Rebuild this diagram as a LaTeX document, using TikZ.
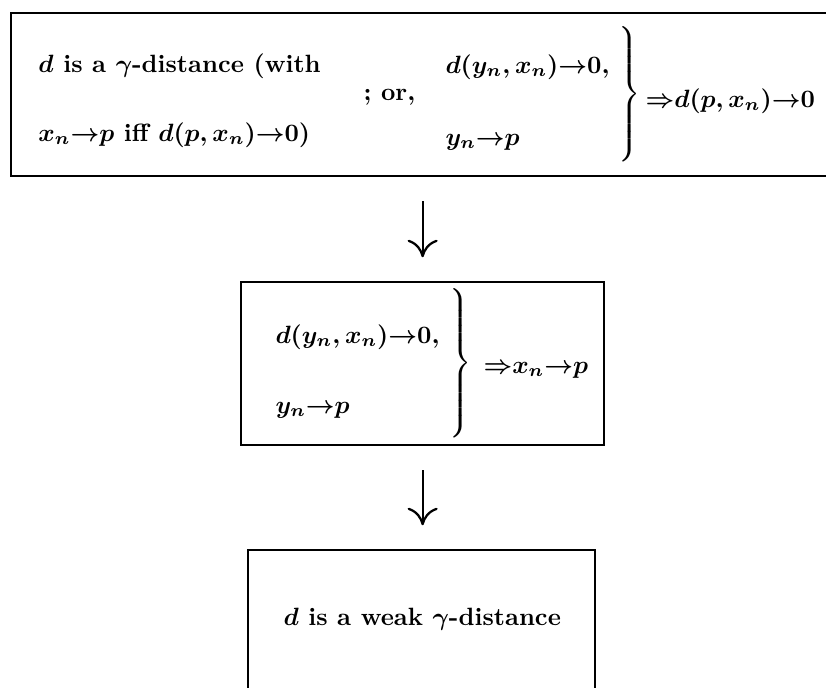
\documentclass[tikz,border=0pt]{standalone}
\usetikzlibrary{arrows.meta}
\begin{document}
\begin{tikzpicture}[x=0.4pt, y=-0.4pt, every node/.style={font=\bfseries\boldmath, inner sep=0pt}, frame/.style={draw, line width=0.9pt, anchor=north west}, txt/.style={anchor=base west}, brace/.style={anchor=west}, implies/.style={-{To[length=7pt, width=12pt]}, line width=0.9pt, shorten <=9.5pt, shorten >=9.5pt}]
		\useasboundingbox (0,0) rectangle (826,687);
		\node[frame, minimum width=334pt, minimum height=65.2pt] (gdist) at (10,12) {};
		\node[frame, minimum width=145.2pt, minimum height=65.2pt] (conv) at (240,281) {};
		\node[frame, minimum width=138.8pt, minimum height=66pt] (weak) at (247,549) {};
		\node[txt] (g1) at (38,72) {$d$ is a $\gamma$-distance (with};
		\node[txt] (g2) at (38,141) {$x_n{\to}p$ iff $d(p,x_n){\to}0$)};
		\node[txt] (gor) at (363,100) {; or,};
		\node[txt] (g3) at (445,73) {$d(y_n,x_n){\to}0$,};
		\node[txt] (g4) at (445,145) {$y_n{\to}p$};
		\node[brace] (gb) at (615,94) {$\left.\vcenter{\hrule height 28.5pt depth 28.5pt width 0pt}\right\}$};
		\node[txt] (gres) at (645,107) {${\Rightarrow}d(p,x_n){\to}0$};
		\node[txt] (c1) at (275,343) {$d(y_n,x_n){\to}0$,};
		\node[txt] (c2) at (275,413) {$y_n{\to}p$};
		\node[brace] (cb) at (446,363) {$\left.\vcenter{\hrule height 32pt depth 32pt width 0pt}\right\}$};
		\node[txt] (cres) at (483,373) {${\Rightarrow}x_n{\to}p$};
		\node[txt] (w1) at (283,625) {$d$ is a weak $\gamma$-distance};
		\draw[implies] (gdist.south -| conv.north) -- (conv.north);
		\draw[implies] (conv.south) -- (conv.south |- weak.north);
	\end{tikzpicture}
\end{document}
